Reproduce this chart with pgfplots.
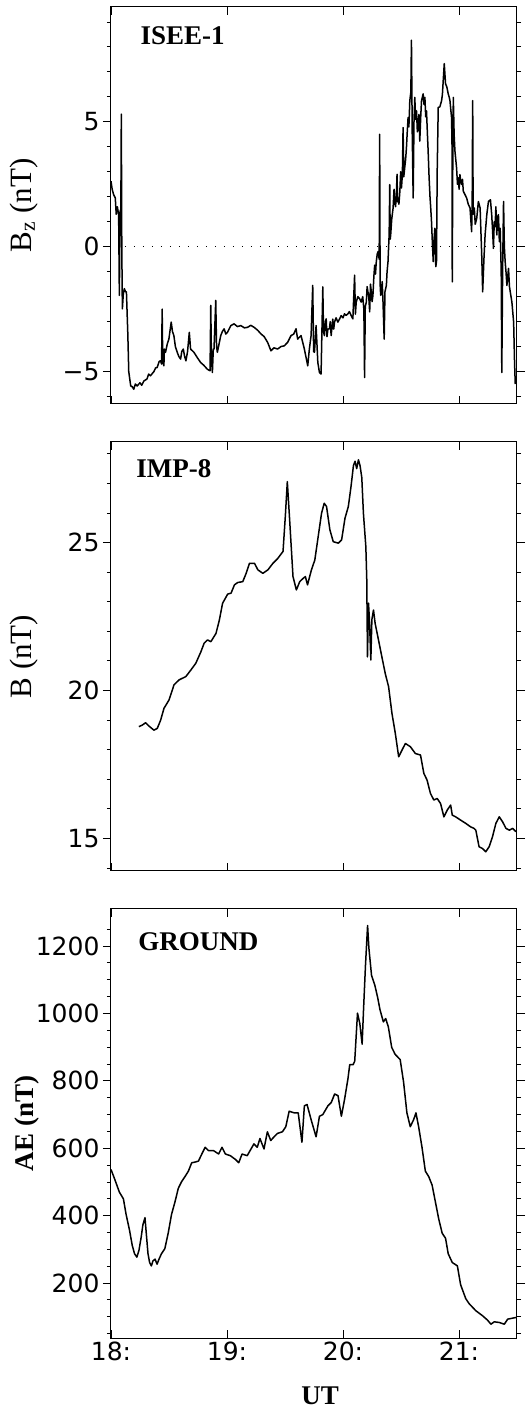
\documentclass[border=0pt]{standalone}
\usepackage{pgfplots}
\pgfplotsset{compat=1.18}
\usepackage{fontspec}
\setmainfont{Liberation Serif}
\newfontfamily\tickfont{DejaVu Sans}
\begin{document}
\begin{tikzpicture}
\path[use as bounding box] (0pt,0pt) rectangle (529pt,1417pt);
\pgfplotsset{myax/.style={
 scale only axis, width=406pt, xmin=18, xmax=21.5,
 anchor=south west,
 xtick={18,19,20,21}, xtick align=inside, ytick align=outside,
 xtick pos=both, ytick pos=both,
 major tick length=8pt, minor tick length=4pt,
 tick style={line width=0.9pt, black},
 axis line style={line width=1pt},
 tick label style={font=\fontsize{25}{25}\tickfont},
 ylabel style={font=\fontsize{31}{31}\selectfont, at={(axis description cs:-0.215,0.5)}, anchor=center},
 cycle list={{black, mark=none}},
 every axis plot/.append style={line width=1.5pt, line join=round},
}}
% ---------------- Panel 1: ISEE-1
\begin{axis}[myax, at={(111pt,1013pt)}, height=397pt,
 ymin=-6.3, ymax=9.6, ytick={-5,0,5}, yticklabels={−5,0,5},
 minor ytick={-6,-4,-3,-2,-1,1,2,3,4,6,7,8,9},
 xticklabels={}, ylabel={B\textsubscript{z} (nT)}]
\addplot[black, line width=1.5pt, dash pattern=on 1.5pt off 7.5pt] coordinates {(18.12,0) (21.5,0)};
\addplot coordinates {
(18.000,2.62) (18.010,2.3) (18.023,2.08) (18.037,1.95) (18.045,1.3) (18.055,1.6) (18.066,1.28) (18.072,-1.95) (18.078,1.4) (18.085,1.5) (18.089,5.31) (18.093,0.0) (18.098,-2.49) (18.106,-1.9) (18.115,-1.68) (18.125,-1.8) (18.133,-1.81) (18.145,-3.5) (18.153,-5.0) (18.170,-5.58) (18.182,-5.6) (18.196,-5.71) (18.210,-5.5) (18.225,-5.58) (18.25,-5.45) (18.265,-5.55) (18.283,-5.38) (18.31,-5.3) (18.325,-5.1) (18.340,-5.17) (18.37,-5.0) (18.385,-4.85) (18.398,-4.84) (18.415,-4.6) (18.427,-4.57) (18.436,-4.7) (18.441,-2.5) (18.446,-4.6) (18.456,-4.77) (18.460,-4.1) (18.470,-4.23) (18.485,-3.9) (18.499,-3.70) (18.519,-3.02) (18.530,-3.4) (18.542,-3.56) (18.555,-4.0) (18.571,-4.23) (18.585,-4.4) (18.600,-4.50) (18.610,-4.2) (18.623,-4.10) (18.635,-4.4) (18.646,-4.57) (18.660,-4.2) (18.675,-3.43) (18.686,-4.10) (18.715,-4.23) (18.745,-4.45) (18.773,-4.64) (18.800,-4.75) (18.831,-4.91) (18.854,-4.97) (18.860,-2.35) (18.866,-4.5) (18.874,-5.04) (18.882,-4.1) (18.888,-4.10) (18.903,-2.15) (18.910,-4.0) (18.917,-4.23) (18.946,-3.56) (18.960,-3.4) (18.975,-3.29) (18.990,-3.5) (19.004,-3.43) (19.033,-3.16) (19.061,-3.09) (19.090,-3.2) (19.119,-3.16) (19.150,-3.25) (19.177,-3.23) (19.205,-3.15) (19.234,-3.23) (19.265,-3.35) (19.292,-3.49) (19.320,-3.6) (19.350,-3.83) (19.379,-4.17) (19.405,-4.05) (19.436,-4.10) (19.465,-4.0) (19.494,-3.97) (19.523,-3.83) (19.552,-3.56) (19.575,-3.5) (19.595,-3.29) (19.609,-3.70) (19.638,-3.56) (19.667,-4.10) (19.696,-4.77) (19.710,-4.10) (19.725,-3.56) (19.739,-1.55) (19.747,-4.2) (19.754,-4.23) (19.768,-3.16) (19.783,-4.64) (19.797,-5.04) (19.811,-5.1) (19.826,-1.61) (19.832,-3.4) (19.840,-3.56) (19.848,-3.0) (19.855,-2.89) (19.862,-3.6) (19.870,-3.3) (19.883,-3.29) (19.890,-3.0) (19.898,-3.56) (19.912,-2.9) (19.920,-3.3) (19.927,-3.02) (19.940,-2.85) (19.956,-3.02) (19.970,-2.9) (19.984,-2.76) (20.000,-2.85) (20.013,-2.69) (20.027,-2.75) (20.042,-2.69) (20.055,-2.6) (20.071,-2.76) (20.085,-2.89) (20.100,-1.14) (20.107,-2.7) (20.114,-2.22) (20.128,-2.0) (20.143,-2.08) (20.157,-2.22) (20.170,-2.0) (20.180,-2.5) (20.186,-5.24) (20.192,-2.4) (20.201,-2.22) (20.208,-1.6) (20.215,-1.81) (20.222,-2.0) (20.230,-2.61) (20.237,-1.5) (20.244,-1.81) (20.251,-2.2) (20.258,-1.95) (20.266,-1.2) (20.273,-0.74) (20.280,-1.1) (20.287,-0.60) (20.295,-0.3) (20.302,-0.20) (20.312,-0.5) (20.316,4.50) (20.320,-1.5) (20.325,-1.95) (20.331,-1.81) (20.338,-1.4) (20.345,-2.22) (20.355,-3.70) (20.362,-1.8) (20.374,-1.55) (20.380,-1.0) (20.388,-0.60) (20.398,0.5) (20.403,2.49) (20.407,0.3) (20.411,0.47) (20.420,1.1) (20.432,1.55) (20.440,2.3) (20.446,1.81) (20.453,1.6) (20.460,2.08) (20.466,2.9) (20.470,1.8) (20.475,1.95) (20.482,1.7) (20.490,2.2) (20.497,3.0) (20.504,2.35) (20.512,2.9) (20.518,4.77) (20.524,2.8) (20.532,3.16) (20.540,3.5) (20.547,3.97) (20.554,4.6) (20.561,5.17) (20.568,4.8) (20.576,5.85) (20.585,6.2) (20.590,8.27) (20.597,4.5) (20.605,1.95) (20.612,5.0) (20.619,5.98) (20.626,5.1) (20.634,5.44) (20.641,4.6) (20.648,4.77) (20.655,5.3) (20.662,4.23) (20.670,5.2) (20.677,5.85) (20.691,6.12) (20.698,5.7) (20.706,5.98) (20.713,5.2) (20.720,5.44) (20.727,4.6) (20.734,3.83) (20.742,2.8) (20.750,2.0) (20.757,1.5) (20.763,1.01) (20.770,0.2) (20.778,-0.60) (20.785,0.3) (20.792,0.74) (20.800,-0.8) (20.806,-0.60) (20.812,3.0) (20.821,5.58) (20.835,5.6) (20.850,5.85) (20.857,6.1) (20.864,6.65) (20.873,7.33) (20.884,6.52) (20.895,6.4) (20.907,6.12) (20.915,6.0) (20.922,5.85) (20.929,5.5) (20.936,5.17) (20.940,4.0) (20.942,-1.41) (20.946,3.0) (20.951,5.98) (20.958,4.5) (20.965,3.83) (20.972,3.5) (20.979,3.16) (20.987,2.5) (20.994,2.76) (21.001,2.3) (21.008,2.89) (21.015,2.6) (21.023,2.49) (21.030,2.7) (21.037,2.22) (21.050,2.1) (21.066,1.95) (21.080,1.7) (21.095,1.55) (21.109,0.60) (21.114,2.0) (21.118,5.85) (21.122,1.3) (21.132,1.55) (21.140,0.9) (21.153,1.14) (21.167,1.81) (21.182,1.55) (21.196,-0.34) (21.204,-1.81) (21.215,-0.5) (21.225,0.47) (21.240,1.3) (21.254,1.81) (21.271,1.88) (21.282,1.28) (21.290,0.6) (21.297,-0.07) (21.304,1.0) (21.311,0.8) (21.318,1.6) (21.326,0.47) (21.333,1.2) (21.340,1.28) (21.348,0.2) (21.355,0.74) (21.364,-1.0) (21.369,-5.04) (21.376,-1.0) (21.384,1.81) (21.391,0.0) (21.398,-0.60) (21.405,-1.0) (21.413,-1.55) (21.420,-1.2) (21.427,-0.87) (21.435,-1.6) (21.442,-1.81) (21.456,-2.22) (21.471,-3.02) (21.479,-4.64) (21.485,-5.5)
};
\node[anchor=west, font=\bfseries\fontsize{27}{27}\selectfont] at (axis description cs:0.064,0.927) {ISEE-1};
\end{axis}
% ---------------- Panel 2: IMP-8
\begin{axis}[myax, at={(111pt,546pt)}, height=429pt,
 ymin=13.9, ymax=28.4, ytick={15,20,25}, yticklabels={15,20,25},
 minor ytick={14,16,17,18,19,21,22,23,24,26,27,28},
 xticklabels={}, ylabel={B (nT)}]
\addplot coordinates {
(18.240,18.78) (18.269,18.83) (18.298,18.91) (18.327,18.80) (18.370,18.66) (18.399,18.72) (18.428,19.0) (18.457,19.40) (18.500,19.68) (18.543,20.19) (18.587,20.36) (18.645,20.47) (18.688,20.69) (18.731,20.92) (18.775,21.31) (18.803,21.60) (18.832,21.71) (18.861,21.65) (18.905,21.93) (18.934,22.38) (18.962,22.95) (19.006,23.26) (19.035,23.29) (19.064,23.57) (19.092,23.65) (19.136,23.68) (19.165,23.96) (19.194,24.30) (19.237,24.30) (19.266,24.08) (19.309,23.96) (19.353,24.08) (19.396,24.30) (19.439,24.47) (19.483,24.70) (19.503,25.9) (19.520,27.06) (19.540,25.77) (19.569,23.85) (19.598,23.40) (19.627,23.68) (19.656,23.79) (19.676,23.85) (19.694,23.57) (19.728,24.08) (19.757,24.41) (19.786,25.20) (19.815,25.99) (19.838,26.33) (19.858,26.22) (19.887,25.43) (19.916,25.03) (19.960,24.98) (19.988,25.09) (20.017,25.82) (20.046,26.22) (20.069,26.89) (20.090,27.6) (20.104,27.75) (20.118,27.5) (20.133,27.8) (20.147,27.6) (20.162,27.2) (20.176,25.99) (20.197,24.86) (20.205,23.74) (20.211,21.14) (20.220,22.95) (20.228,22.38) (20.240,21.03) (20.249,22.4) (20.263,22.72) (20.277,22.27) (20.306,21.71) (20.335,21.14) (20.364,20.58) (20.393,20.13) (20.422,19.23) (20.451,18.55) (20.480,17.76) (20.509,17.99) (20.538,18.21) (20.581,18.10) (20.624,17.87) (20.668,17.82) (20.697,17.2) (20.725,16.97) (20.754,16.52) (20.783,16.30) (20.812,16.35) (20.841,16.18) (20.870,15.73) (20.899,15.96) (20.928,16.13) (20.942,15.79) (20.971,15.73) (21.014,15.62) (21.058,15.51) (21.101,15.39) (21.130,15.34) (21.145,15.28) (21.173,14.72) (21.202,14.66) (21.231,14.55) (21.260,14.72) (21.289,15.06) (21.318,15.51) (21.347,15.73) (21.376,15.56) (21.405,15.34) (21.434,15.28) (21.462,15.34) (21.491,15.23)
};
\node[anchor=west, font=\bfseries\fontsize{27}{27}\selectfont] at (axis description cs:0.054,0.939) {IMP-8};
\end{axis}
% ---------------- Panel 3: GROUND
\begin{axis}[myax, at={(111pt,79pt)}, height=429pt,
 ymin=37, ymax=1310, ytick={200,400,600,800,1000,1200},
 yticklabels={200,400,600,800,1000,1200},
 minor ytick={50,100,150,250,300,350,450,500,550,650,700,750,850,900,950,1050,1100,1150,1250},
 xticklabels={18:,19:,20:,21:},
 ylabel={\bfseries AE (nT)},
 ylabel style={font=\fontsize{27}{27}\selectfont, at={(axis description cs:-0.207,0.5)}},
 xlabel={UT},
 xlabel style={font=\bfseries\fontsize{27}{27}\selectfont, at={(axis description cs:0.515,-0.135)}, anchor=center}]
\addplot coordinates {
(18.000,537) (18.029,511) (18.072,470) (18.107,450) (18.130,404) (18.159,358) (18.183,312) (18.203,287) (18.223,277) (18.241,297) (18.261,338) (18.275,373) (18.293,394) (18.304,348) (18.319,287) (18.333,261) (18.348,251) (18.362,266) (18.380,271) (18.397,256) (18.414,271) (18.435,287) (18.464,302) (18.493,348) (18.522,404) (18.551,440) (18.580,481) (18.609,501) (18.638,516) (18.667,532) (18.696,557) (18.725,559) (18.754,562) (18.783,583) (18.812,603) (18.841,593) (18.884,593) (18.928,583) (18.957,603) (18.986,583) (19.029,578) (19.072,567) (19.101,557) (19.130,583) (19.174,578) (19.232,613) (19.261,603) (19.284,629) (19.319,598) (19.348,649) (19.377,623) (19.406,634) (19.435,644) (19.478,649) (19.507,664) (19.536,710) (19.580,705) (19.614,705) (19.646,618) (19.667,726) (19.690,730) (19.725,685) (19.768,634) (19.797,695) (19.826,700) (19.870,726) (19.899,736) (19.928,761) (19.957,756) (19.986,695) (20.014,746) (20.043,807) (20.058,848) (20.087,848) (20.101,858) (20.125,1001) (20.145,970) (20.165,909) (20.177,1011) (20.194,1144) (20.212,1261) (20.223,1195) (20.246,1113) (20.275,1083) (20.299,1047) (20.319,1011) (20.348,975) (20.368,985) (20.391,960) (20.420,899) (20.449,879) (20.493,863) (20.522,797) (20.551,705) (20.580,664) (20.609,685) (20.629,705) (20.652,664) (20.681,603) (20.710,532) (20.739,516) (20.768,491) (20.797,440) (20.826,389) (20.855,348) (20.884,333) (20.907,287) (20.942,261) (20.986,251) (21.014,195) (21.058,154) (21.087,139) (21.145,118) (21.203,103) (21.246,90) (21.275,78) (21.304,85) (21.348,83) (21.391,78) (21.420,93) (21.449,95) (21.493,98)
};
\node[anchor=west, font=\bfseries\fontsize{27}{27}\selectfont] at (axis description cs:0.059,0.923) {GROUND};
\end{axis}
\end{tikzpicture}
\end{document}
